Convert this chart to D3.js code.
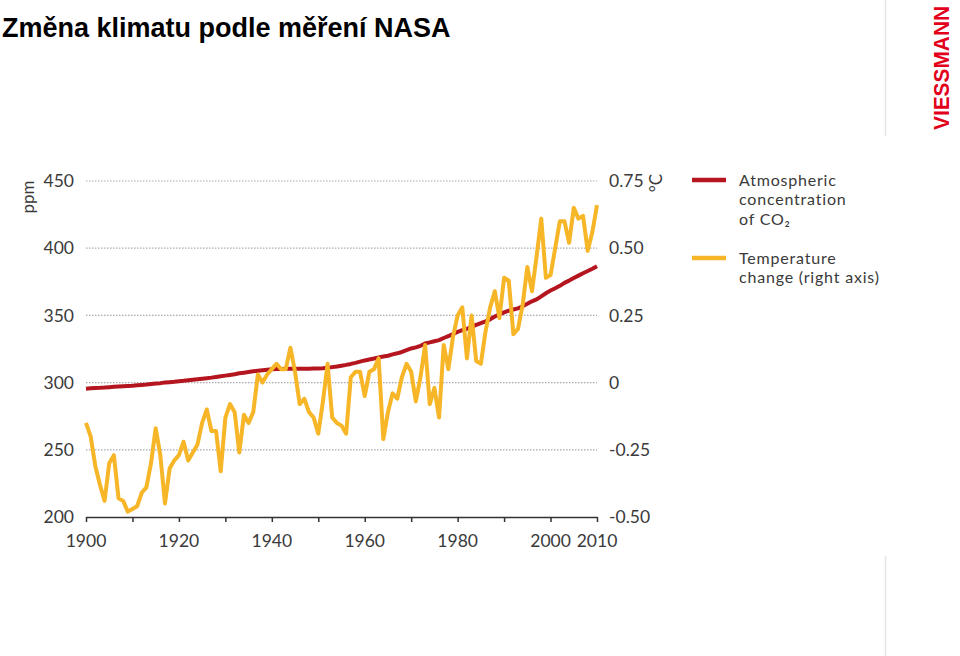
<!DOCTYPE html>
<html>
<head>
<meta charset="utf-8">
<script src="https://cdn.jsdelivr.net/npm/d3@7"></script>
<style>
  html, body { margin: 0; padding: 0; background: #fff; }
  svg { display: block; }
</style>
</head>
<body>
<svg id="chart" width="960" height="656"></svg>
<script>
// ---- data ----
const years = d3.range(1900, 2011);
const co2 = [
  295.5, 295.8, 296.0, 296.1, 296.3, 296.6, 296.9, 297.1, 297.3, 297.5,
  297.7, 298.0, 298.3, 298.6, 299.0, 299.3, 299.6, 300.0, 300.3, 300.6,
  301.0, 301.3, 301.7, 302.1, 302.5, 302.9, 303.3, 303.7, 304.2, 304.7,
  305.2, 305.7, 306.2, 306.9, 307.4, 307.9, 308.4, 308.8, 309.2, 309.6,
  309.9, 310.1, 310.2, 310.3, 310.3, 310.3, 310.3, 310.3, 310.3, 310.4,
  310.5, 310.7, 311.0, 311.5, 312.0, 312.6, 313.2, 313.9, 314.7, 315.6,
  316.5, 317.2, 317.9, 318.7, 319.4, 320.0, 321.0, 321.8, 322.8, 324.2,
  325.4, 326.2, 327.4, 329.1, 329.9, 330.8, 331.6, 333.2, 334.6, 336.0,
  337.8, 339.0, 340.0, 341.4, 342.9, 344.3, 345.6, 347.1, 349.2, 350.8,
  352.3, 353.5, 354.4, 355.2, 356.8, 358.6, 360.5, 361.9, 364.2, 366.5,
  368.5, 370.2, 372.0, 374.2, 375.9, 377.8, 379.6, 381.4, 383.0, 384.7,
  386.6
];
const temperature = [
  -0.15, -0.20, -0.31, -0.38, -0.44, -0.30, -0.27, -0.43, -0.44, -0.48,
  -0.47, -0.46, -0.41, -0.39, -0.30, -0.17, -0.27, -0.45, -0.32, -0.29,
  -0.27, -0.22, -0.29, -0.26, -0.23, -0.15, -0.10, -0.18, -0.18, -0.33,
  -0.13, -0.08, -0.11, -0.26, -0.12, -0.15, -0.11, 0.03, 0.00, 0.03,
  0.05, 0.07, 0.05, 0.05, 0.13, 0.04, -0.08, -0.06, -0.11, -0.13,
  -0.19, -0.07, 0.07, -0.13, -0.15, -0.16, -0.19, 0.02, 0.04, 0.04,
  -0.05, 0.04, 0.05, 0.09, -0.21, -0.11, -0.04, -0.06, 0.02, 0.07,
  0.04, -0.07, 0.02, 0.14, -0.08, -0.02, -0.13, 0.14, 0.05, 0.17,
  0.25, 0.28, 0.09, 0.25, 0.08, 0.07, 0.19, 0.28, 0.34, 0.24,
  0.39, 0.38, 0.18, 0.20, 0.29, 0.43, 0.34, 0.47, 0.61, 0.39,
  0.40, 0.50, 0.60, 0.60, 0.52, 0.65, 0.61, 0.62, 0.49, 0.56,
  0.66
];
const ppmTicks = [200, 250, 300, 350, 400, 450];
const tempTicks = [-0.5, -0.25, 0, 0.25, 0.5, 0.75];
const tempTickLabels = ["-0.50", "-0.25", "0", "0.25", "0.50", "0.75"];
const yearTicks = d3.range(1900, 2011, 10);
const yearLabels = [1900, 1920, 1940, 1960, 1980, 2000, 2010];
const title = "Změna klimatu podle měření NASA";
const legendItems = [
  { lines: ["Atmospheric", "concentration", "of CO\u2082"], color: "#b5151f" },
  { lines: ["Temperature", "change (right axis)"], color: "#f6b627" }
];

// ---- drawing ----
const svg = d3.select("#chart");
const font = "Lato, 'Open Sans', sans-serif";
const textColor = "#3a3a3a";

const x = d3.scaleLinear().domain([1900, 2010]).range([86, 597]);
const yL = d3.scaleLinear().domain([200, 450]).range([517, 181]);
const yR = d3.scaleLinear().domain([-0.5, 0.75]).range([517, 181]);

// title
svg.append("text")
  .attr("x", 2).attr("y", 37)
  .attr("font-family", "'Liberation Sans', Arial, sans-serif")
  .attr("font-weight", "bold")
  .attr("font-size", 27)
  .attr("fill", "#000")
  .text(title);

// separator lines on right
svg.append("line").attr("x1", 885.5).attr("x2", 885.5).attr("y1", 0).attr("y2", 136)
  .attr("stroke", "#e4e4e4").attr("stroke-width", 1.5);
svg.append("line").attr("x1", 885.5).attr("x2", 885.5).attr("y1", 556).attr("y2", 656)
  .attr("stroke", "#e4e4e4").attr("stroke-width", 1.5);

// logo
svg.append("text")
  .attr("transform", "translate(949,130) rotate(-90)")
  .attr("font-family", "'Liberation Sans', Arial, sans-serif")
  .attr("font-weight", "bold")
  .attr("font-size", 22)
  .attr("fill", "#e2001a")
  .attr("textLength", 124)
  .attr("lengthAdjust", "spacingAndGlyphs")
  .text("VIESSMANN");

// gridlines
svg.append("g").selectAll("line")
  .data(ppmTicks.filter(d => d > 200))
  .join("line")
  .attr("x1", x(1900)).attr("x2", x(2010))
  .attr("y1", d => yL(d)).attr("y2", d => yL(d))
  .attr("stroke", "#a9a9b4").attr("stroke-width", 1.2)
  .attr("stroke-dasharray", "1.5,1.5");

// left axis labels
svg.append("g").selectAll("text")
  .data(ppmTicks)
  .join("text")
  .attr("x", 74).attr("y", d => yL(d))
  .attr("dy", "0.35em")
  .attr("text-anchor", "end")
  .attr("font-family", font).attr("font-size", 17.5)
  .attr("fill", textColor)
  .text(d => d);

// right axis labels
svg.append("g").selectAll("text")
  .data(tempTicks)
  .join("text")
  .attr("x", 609).attr("y", d => yR(d))
  .attr("dy", "0.35em")
  .attr("text-anchor", "start")
  .attr("font-family", font).attr("font-size", 17.5)
  .attr("fill", textColor)
  .text((d, i) => tempTickLabels[i]);

// axis titles
svg.append("text")
  .attr("transform", "translate(34,197) rotate(-90)")
  .attr("text-anchor", "middle")
  .attr("font-family", font).attr("font-size", 17)
  .attr("fill", textColor)
  .text("ppm");
svg.append("text")
  .attr("transform", "translate(662,183) rotate(-90)")
  .attr("text-anchor", "middle")
  .attr("font-family", font).attr("font-size", 17)
  .attr("fill", textColor)
  .text("°C");

// x axis
const xAxis = d3.axisBottom(x)
  .tickValues(yearTicks)
  .tickSize(5)
  .tickSizeOuter(0)
  .tickFormat("");
const gx = svg.append("g").attr("transform", "translate(0,517)").call(xAxis);
gx.select(".domain").attr("stroke", "#333").attr("stroke-width", 1.5);
gx.selectAll(".tick line").attr("stroke", "#333").attr("stroke-width", 1.5);

svg.append("g").selectAll("text")
  .data(yearLabels)
  .join("text")
  .attr("x", d => x(d)).attr("y", 541)
  .attr("dy", "0.35em")
  .attr("text-anchor", "middle")
  .attr("font-family", font).attr("font-size", 17.5)
  .attr("fill", textColor)
  .text(d => d);

// lines
const co2Line = d3.line().x((d, i) => x(years[i])).y(d => yL(d));
const tempLine = d3.line().x((d, i) => x(years[i])).y(d => yR(d));

svg.append("path")
  .datum(co2)
  .attr("d", co2Line)
  .attr("fill", "none")
  .attr("stroke", legendItems[0].color)
  .attr("stroke-width", 4)
  .attr("stroke-linejoin", "round");

svg.append("path")
  .datum(temperature)
  .attr("d", tempLine)
  .attr("fill", "none")
  .attr("stroke", legendItems[1].color)
  .attr("stroke-width", 4)
  .attr("stroke-linejoin", "round");

// legend (each line its own text, line box fits the 19.5px spacing)
const legendY = [180, 258];
legendItems.forEach((item, k) => {
  const g = svg.append("g");
  g.append("line")
    .attr("x1", 692).attr("x2", 726)
    .attr("y1", legendY[k]).attr("y2", legendY[k])
    .attr("stroke", item.color).attr("stroke-width", 4.5);
  item.lines.forEach((ln, j) => {
    g.append("text")
      .attr("x", 739).attr("y", legendY[k] + j * 19.5)
      .attr("dy", "0.35em")
      .attr("font-family", font).attr("font-size", 16)
      .attr("letter-spacing", 0.8)
      .attr("fill", textColor)
      .text(ln);
  });
});
</script>
</body>
</html>
